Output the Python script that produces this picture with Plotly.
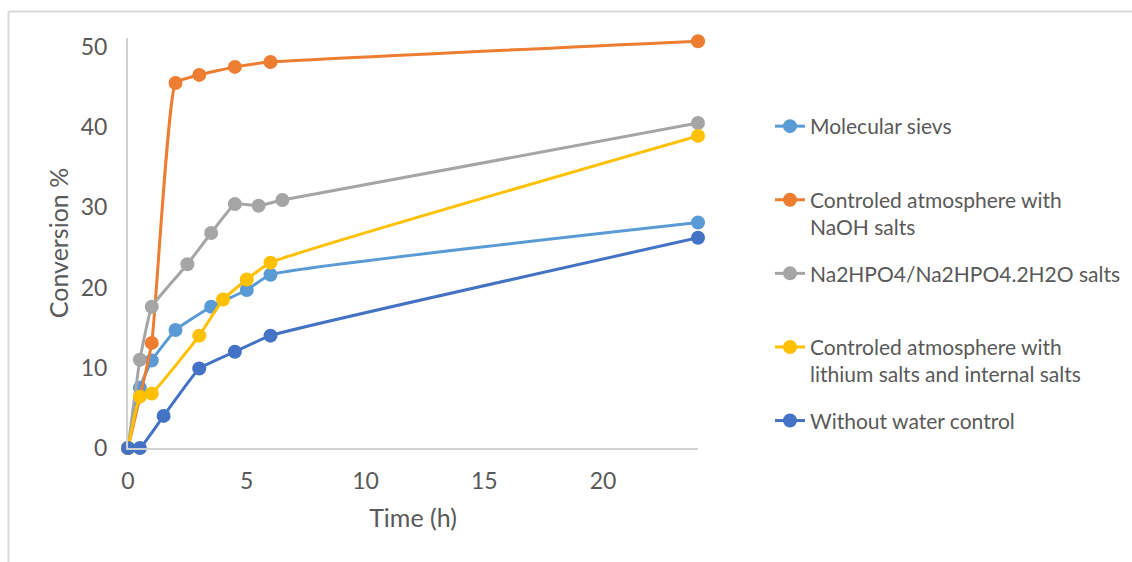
import plotly.graph_objects as go

# Reaction time (h) and conversion (%) for each water-control strategy
time_sieves = [0, 0.5, 1, 2, 3.5, 5, 6, 24]
conv_sieves = [0, 7.5, 10.9, 14.7, 17.6, 19.7, 21.6, 28.1]

time_naoh = [0, 1, 2, 3, 4.5, 6, 24]
conv_naoh = [0, 13.1, 45.5, 46.5, 47.5, 48.1, 50.7]

time_phosphate = [0, 0.5, 1, 2.5, 3.5, 4.5, 5.5, 6.5, 24]
conv_phosphate = [0, 11.0, 17.6, 22.9, 26.8, 30.4, 30.2, 30.9, 40.5]

time_lithium = [0, 0.5, 1, 3, 4, 5, 6, 24]
conv_lithium = [0, 6.4, 6.8, 14.0, 18.5, 21.0, 23.1, 38.9]

time_none = [0, 0.5, 1.5, 3, 4.5, 6, 24]
conv_none = [0, 0, 4.0, 9.9, 12.0, 14.0, 26.2]

x_ticks = [0, 5, 10, 15, 20]
y_ticks = [0, 10, 20, 30, 40, 50]

series = [
    ("Molecular sievs<br> ", time_sieves, conv_sieves, "#5B9BD5"),
    ("Controled atmosphere with<br>NaOH salts", time_naoh, conv_naoh, "#ED7D31"),
    ("Na2HPO4/Na2HPO4.2H2O salts<br> ", time_phosphate, conv_phosphate, "#A5A5A5"),
    ("Controled atmosphere with<br>lithium salts and internal salts", time_lithium, conv_lithium, "#FFC000"),
    ("Without water control<br> ", time_none, conv_none, "#4472C4"),
]

FONT = "Lato"
TEXT = "#595959"

fig = go.Figure()
for i, (name, xs, ys, color) in enumerate(series):
    fig.add_trace(go.Scatter(
        x=xs, y=ys, name=name, mode="lines+markers",
        line=dict(color=color, width=3, shape="spline", smoothing=0.35),
        marker=dict(color=color, size=14),
        cliponaxis=False, legendgroup=f"g{i}",
    ))

L, R, T, B = 128, 698, 38, 448
W, H = 1132, 562

fig.update_layout(
    width=W, height=H,
    margin=dict(l=L, r=W - R, t=T, b=H - B, pad=0, autoexpand=False),
    paper_bgcolor="white", plot_bgcolor="white",
    font=dict(family=FONT, color=TEXT, size=21),
    showlegend=True,
    legend=dict(
        xref="container", yref="container",
        x=770 / W, y=1 - 106 / H,
        xanchor="left", yanchor="top",
        valign="top", tracegroupgap=16, maxheight=800,
        font=dict(family=FONT, size=21, color=TEXT),
        bgcolor="rgba(0,0,0,0)",
    ),
    xaxis=dict(
        range=[0, 24], tickvals=x_ticks, showgrid=False, zeroline=False,
        showline=True, linecolor="#D0D0D0", linewidth=2,
        ticks="", ticklabelstandoff=11,
        tickfont=dict(family=FONT, size=23, color=TEXT),
        title=dict(text="Time (h)", font=dict(family=FONT, size=25, color=TEXT), standoff=17),
    ),
    yaxis=dict(
        range=[0, 51.1], tickvals=y_ticks, showgrid=False, zeroline=False,
        showline=True, linecolor="#D0D0D0", linewidth=2,
        ticks="", ticklabelstandoff=14,
        tickfont=dict(family=FONT, size=23, color=TEXT),
        title=dict(text="Conversion %", font=dict(family=FONT, size=25, color=TEXT), standoff=5),
    ),
)

# light frame around the chart area
fig.add_shape(type="line", xref="paper", yref="paper",
              x0=(8.5 - L) / (R - L), x1=(W + 5 - L) / (R - L),
              y0=(B - 11.5) / (B - T), y1=(B - 11.5) / (B - T),
              line=dict(color="#D9D9D9", width=2))
fig.add_shape(type="line", xref="paper", yref="paper",
              x0=(8.5 - L) / (R - L), x1=(8.5 - L) / (R - L),
              y0=(B - 11.5) / (B - T), y1=(B - H - 5) / (B - T),
              line=dict(color="#D9D9D9", width=2))

fig.write_html("out.html")
